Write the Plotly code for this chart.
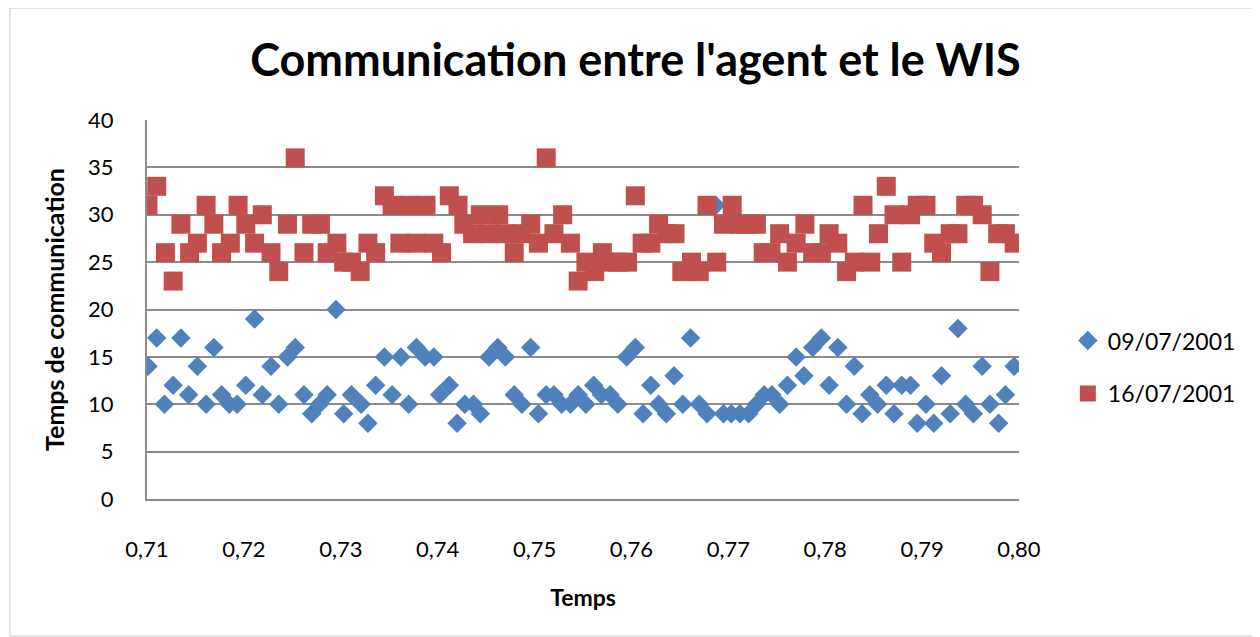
import plotly.graph_objects as go

# Series 09/07/2001 (blue diamonds)
x_0907 = [0.7101, 0.7110, 0.7118, 0.7127, 0.7135, 0.7143, 0.7152, 0.7161, 0.7169, 0.7177,
          0.7185, 0.7193, 0.7202, 0.7211, 0.7219, 0.7228, 0.7236, 0.7245, 0.7253, 0.7262,
          0.7270, 0.7278, 0.7286, 0.7295, 0.7303, 0.7311, 0.7321, 0.7328, 0.7336, 0.7345,
          0.7353, 0.7362, 0.7370, 0.7378, 0.7387, 0.7396, 0.7402, 0.7412, 0.7420, 0.7428,
          0.7437, 0.7444, 0.7453, 0.7462, 0.7470, 0.7479, 0.7487, 0.7496, 0.7504, 0.7512,
          0.7520, 0.7528, 0.7537, 0.7545, 0.7553, 0.7561, 0.7569, 0.7578, 0.7586, 0.7595,
          0.7604, 0.7612, 0.7620, 0.7628, 0.7636, 0.7644, 0.7653, 0.7661, 0.7670, 0.7678,
          0.7687, 0.7695, 0.7703, 0.7712, 0.7721, 0.7729, 0.7737, 0.7745, 0.7753, 0.7761,
          0.7770, 0.7778, 0.7787, 0.7796, 0.7804, 0.7813, 0.7822, 0.7830, 0.7838, 0.7846,
          0.7854, 0.7863, 0.7871, 0.7879, 0.7888, 0.7895, 0.7904, 0.7912, 0.7920, 0.7929,
          0.7937, 0.7945, 0.7953, 0.7962, 0.7970, 0.7979, 0.7986, 0.7995]
y_0907 = [14, 17, 10, 12, 17, 11, 14, 10, 16, 11,
          10, 10, 12, 19, 11, 14, 10, 15, 16, 11,
          9, 10, 11, 20, 9, 11, 10, 8, 12, 15,
          11, 15, 10, 16, 15, 15, 11, 12, 8, 10,
          10, 9, 15, 16, 15, 11, 10, 16, 9, 11,
          11, 10, 10, 11, 10, 12, 11, 11, 10, 15,
          16, 9, 12, 10, 9, 13, 10, 17, 10, 9,
          31, 9, 9, 9, 9, 10, 11, 11, 10, 12,
          15, 13, 16, 17, 12, 16, 10, 14, 9, 11,
          10, 12, 9, 12, 12, 8, 10, 8, 13, 9,
          18, 10, 9, 14, 10, 8, 11, 14]

# Series 16/07/2001 (red squares)
x_1607 = [0.7101, 0.7110, 0.7119, 0.7127, 0.7135, 0.7144, 0.7152, 0.7161, 0.7169, 0.7177,
          0.7186, 0.7194, 0.7202, 0.7211, 0.7219, 0.7228, 0.7236, 0.7245, 0.7253, 0.7262,
          0.7270, 0.7279, 0.7286, 0.7296, 0.7303, 0.7311, 0.7320, 0.7328, 0.7336, 0.7345,
          0.7353, 0.7361, 0.7370, 0.7378, 0.7388, 0.7396, 0.7404, 0.7412, 0.7421, 0.7427,
          0.7436, 0.7444, 0.7453, 0.7463, 0.7469, 0.7479, 0.7486, 0.7496, 0.7504, 0.7512,
          0.7520, 0.7529, 0.7537, 0.7545, 0.7553, 0.7562, 0.7570, 0.7577, 0.7586, 0.7596,
          0.7604, 0.7611, 0.7620, 0.7628, 0.7637, 0.7645, 0.7652, 0.7662, 0.7670, 0.7678,
          0.7688, 0.7695, 0.7704, 0.7711, 0.7719, 0.7729, 0.7736, 0.7744, 0.7753, 0.7761,
          0.7770, 0.7779, 0.7787, 0.7796, 0.7804, 0.7813, 0.7822, 0.7830, 0.7839, 0.7847,
          0.7855, 0.7863, 0.7871, 0.7879, 0.7888, 0.7895, 0.7904, 0.7912, 0.7920, 0.7929,
          0.7937, 0.7945, 0.7953, 0.7962, 0.7970, 0.7978, 0.7986, 0.7995]
y_1607 = [31, 33, 26, 23, 29, 26, 27, 31, 29, 26,
          27, 31, 29, 27, 30, 26, 24, 29, 36, 26,
          29, 29, 26, 27, 25, 25, 24, 27, 26, 32,
          31, 27, 31, 27, 31, 27, 26, 32, 31, 29,
          28, 30, 28, 30, 28, 26, 28, 29, 27, 36,
          28, 30, 27, 23, 25, 24, 26, 25, 25, 25,
          32, 27, 27, 29, 28, 28, 24, 25, 24, 31,
          25, 29, 31, 29, 29, 29, 26, 26, 28, 25,
          27, 29, 26, 26, 28, 27, 24, 25, 31, 25,
          28, 33, 30, 25, 30, 31, 31, 27, 26, 28,
          28, 31, 31, 30, 24, 28, 28, 27]

series_names = ["09/07/2001", "16/07/2001"]
title_text = "Communication entre l'agent et le WIS"
x_title = "Temps"
y_title = "Temps de communication"
x_ticks = [0.71, 0.72, 0.73, 0.74, 0.75, 0.76, 0.77, 0.78, 0.79, 0.80]
y_ticks = [0, 5, 10, 15, 20, 25, 30, 35, 40]

BLUE = "#4F81BD"
RED = "#C0504D"
GRID = "#8C8C8C"
FONT = "Lato"

fig = go.Figure()
fig.add_trace(go.Scatter(
    x=x_0907, y=y_0907, mode="markers", name=series_names[0], legendgroup="a",
    marker=dict(symbol="diamond", size=15, color=BLUE, line=dict(width=0)),
))
fig.add_trace(go.Scatter(
    x=x_1607, y=y_1607, mode="markers", name=series_names[1], legendgroup="b",
    marker=dict(symbol="square", size=19, color=RED, line=dict(width=0)),
))

fig.update_layout(
    width=1260, height=637,
    margin=dict(l=139, r=249, t=112, b=146),
    paper_bgcolor="white", plot_bgcolor="white",
    separators=", ",
    font=dict(family=FONT, size=22, color="black"),
    title=dict(text="<b>" + title_text + "</b>", x=0.498, xanchor="center",
               y=0.918, yanchor="middle", font=dict(family=FONT, size=45, color="black")),
    showlegend=True,
    legend=dict(x=1.056, xanchor="left", y=0.348, yanchor="middle",
                font=dict(family=FONT, size=23), traceorder="grouped",
                tracegroupgap=20, itemwidth=30, bgcolor="rgba(0,0,0,0)"),
    xaxis=dict(range=[0.71, 0.80], tickvals=x_ticks, tickformat=".2f",
               showgrid=False, zeroline=False, showline=True, linecolor=GRID,
               linewidth=2, ticks="", ticklabelstandoff=30, tickfont=dict(size=22),
               title=dict(text="<b>" + x_title + "</b>", standoff=28,
                          font=dict(family=FONT, size=23))),
    yaxis=dict(range=[0, 40], tickvals=y_ticks, showgrid=True, gridcolor=GRID,
               gridwidth=2, zeroline=False, showline=True, linecolor=GRID,
               linewidth=2, ticks="", ticklabelstandoff=27, tickfont=dict(size=22),
               title=dict(text="<b>" + y_title + "</b>", standoff=16,
                          font=dict(family=FONT, size=25))),
    shapes=[dict(type="rect", xref="paper", yref="paper",
                 x0=-0.1571, x1=1.2729, y0=-0.3615, y1=1.2955,
                 line=dict(color="#C8C8C8", width=1), fillcolor="rgba(0,0,0,0)",
                 layer="below")],
)

fig.write_html("out.html")
